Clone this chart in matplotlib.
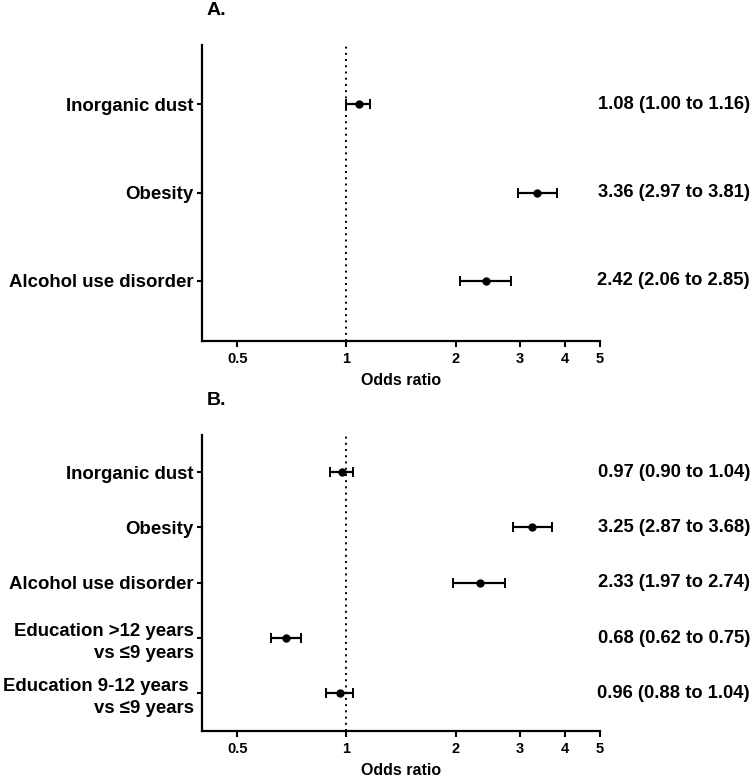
import matplotlib
matplotlib.use("Agg")
import matplotlib.pyplot as plt
from matplotlib.ticker import FixedLocator, FixedFormatter, NullLocator

plt.rcParams['font.family'] = ['Liberation Sans', 'DejaVu Sans']
plt.rcParams['font.weight'] = 'bold'

# panel A
labels_a = ["Inorganic dust", "Obesity", "Alcohol use disorder"]
or_a = [1.08, 3.36, 2.42]
lo_a = [1.00, 2.97, 2.06]
hi_a = [1.16, 3.81, 2.85]

# panel B
labels_b = ["Inorganic dust", "Obesity", "Alcohol use disorder",
            "Education >12 years\nvs \u22649 years",
            "Education 9-12 years \nvs \u22649 years"]
or_b = [0.97, 3.25, 2.33, 0.68, 0.96]
lo_b = [0.90, 2.87, 1.97, 0.62, 0.88]
hi_b = [1.04, 3.68, 2.74, 0.75, 1.04]

xticks = [0.5, 1, 2, 3, 4, 5]
xticklabels = ["0.5", "1", "2", "3", "4", "5"]


def forest(ax, labels, ors, los, his, title):
    n = len(labels)
    ys = list(range(1, n + 1))
    xerr = [[o - l for o, l in zip(ors, los)], [h - o for o, h in zip(ors, his)]]
    ax.axvline(1, color="black", linestyle=(0, (1, 2.2)), lw=1.4, zorder=1)
    ax.errorbar(ors, ys, xerr=xerr, fmt="o", color="black", ms=5,
                elinewidth=1.6, capsize=3.5, capthick=1.4, zorder=3)
    ax.set_xscale("log")
    ax.set_xlim(0.4, 5)
    ax.set_ylim(n + 0.68, 0.33)
    ax.xaxis.set_major_locator(FixedLocator(xticks))
    ax.xaxis.set_major_formatter(FixedFormatter(xticklabels))
    ax.xaxis.set_minor_locator(NullLocator())
    ax.set_yticks(ys)
    ax.set_yticklabels(labels, fontsize=13.4, fontweight="bold", linespacing=1.35)
    ax.tick_params(axis="x", labelsize=10.5, width=1.5, length=4, pad=4)
    ax.tick_params(axis="y", width=1.5, length=3.6, pad=2.5)
    for lab in ax.get_xticklabels():
        lab.set_fontweight("bold")
    for s in ["top", "right"]:
        ax.spines[s].set_visible(False)
    for s in ["left", "bottom"]:
        ax.spines[s].set_linewidth(1.6)
    ax.set_xlabel("Odds ratio", fontsize=11.5, fontweight="bold", labelpad=5)
    for y, o, l, h in zip(ys, ors, los, his):
        ax.text(1.377, y, f"{o:.2f} ({l:.2f} to {h:.2f})", transform=ax.get_yaxis_transform(),
                ha="right", va="center", fontsize=13.2, fontweight="bold")
    ax.text(0.012, 1.115, title, transform=ax.transAxes, ha="left", va="center",
            fontsize=14, fontweight="bold")


fig = plt.figure(figsize=(7.52, 7.78), dpi=100)
ax_a = fig.add_axes([0.2686, 0.5617, 0.5293, 0.3805])
ax_b = fig.add_axes([0.2686, 0.0604, 0.5293, 0.3805])
forest(ax_a, labels_a, or_a, lo_a, hi_a, "A.")
forest(ax_b, labels_b, or_b, lo_b, hi_b, "B.")

fig.savefig("out.png", dpi=100)
